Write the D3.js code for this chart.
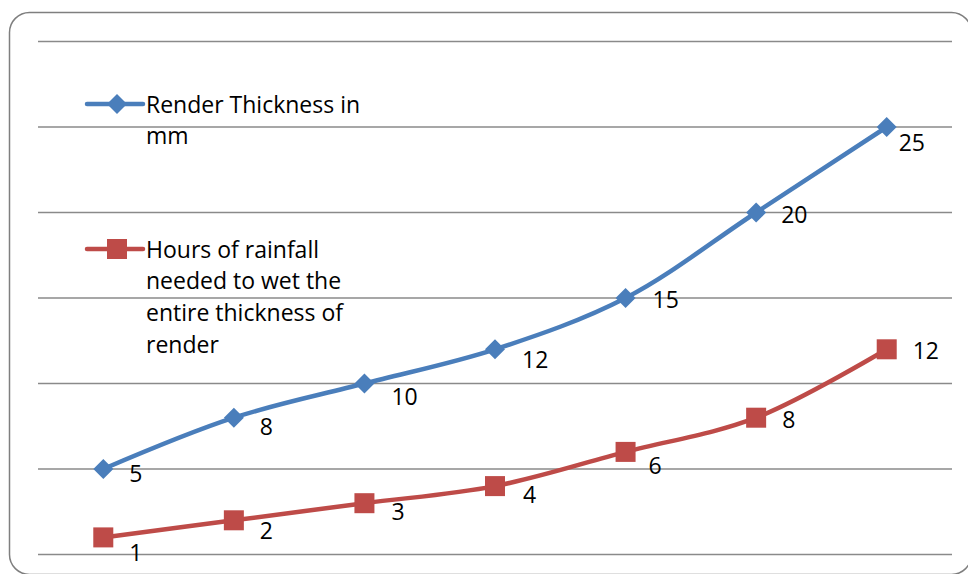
<!DOCTYPE html>
<html><head><meta charset="utf-8">
<script src="https://cdn.jsdelivr.net/npm/d3@7"></script>
<style>html,body{margin:0;padding:0;background:#fff;}svg{display:block;}</style>
</head><body>
<svg id="chart" width="968" height="574"></svg>
<script>
const categories = [1, 2, 3, 4, 5, 6, 7];
const renderThickness = [5, 8, 10, 12, 15, 20, 25];
const rainfallHours = [1, 2, 3, 4, 6, 8, 12];
const yTicks = [0, 5, 10, 15, 20, 25, 30];
const seriesNames = ["Render Thickness in mm", "Hours of rainfall needed to wet the entire thickness of render"];
const legendLines = [["Render Thickness in", "mm"], ["Hours of rainfall", "needed to wet the", "entire thickness of", "render"]];
// label offsets (dx, dy) relative to each point, as placed in the reference
const blueLabelOff = [[26,5],[26,9],[27,13],[27,10],[27,2],[25,2],[12,16]];
const redLabelOff = [[26,15],[26,10],[27,9],[28,9],[23,14],[26,2],[26,1]];

const svg = d3.select("#chart");
const FONT = "'Open Sans', sans-serif";
const FS = 23;

// frame
svg.append("rect").attr("x", 9.5).attr("y", 12.5).attr("width", 962).attr("height", 562)
  .attr("rx", 20).attr("fill", "#fff").attr("stroke", "#7f7f7f").attr("stroke-width", 1.5);

const x = d3.scaleBand().domain(categories).range([38, 952]);
const y = d3.scaleLinear().domain([0, 30]).range([554.5, 41.5]);
const cx = d => x(d) + x.bandwidth() / 2;

// gridlines
svg.append("g").selectAll("line").data(yTicks).join("line")
  .attr("x1", 38).attr("x2", 952)
  .attr("y1", d => y(d)).attr("y2", d => y(d))
  .attr("stroke", "#8a8a8a").attr("stroke-width", 1.6);

const line = d3.line().curve(d3.curveCatmullRom.alpha(0.5));
const blue = "#4a7ebb", red = "#be4b48";

function drawSeries(vals, color, marker, offs) {
  const pts = categories.map((c, i) => [cx(c), y(vals[i])]);
  svg.append("path").attr("d", line(pts)).attr("fill", "none")
    .attr("stroke", color).attr("stroke-width", 4.5).attr("stroke-linecap", "round");
  const g = svg.append("g");
  pts.forEach((p, i) => {
    if (marker === "diamond") {
      g.append("path").attr("d", `M${p[0]},${p[1]-10}L${p[0]+10},${p[1]}L${p[0]},${p[1]+10}L${p[0]-10},${p[1]}Z`).attr("fill", color);
    } else {
      g.append("rect").attr("x", p[0]-10).attr("y", p[1]-10).attr("width", 20).attr("height", 20).attr("fill", color);
    }
    g.append("text").attr("x", p[0] + offs[i][0]).attr("y", p[1] + offs[i][1])
      .attr("dy", "0.36em").attr("font-family", FONT).attr("font-size", FS).attr("fill", "#000")
      .text(vals[i]);
  });
}
drawSeries(renderThickness, blue, "diamond", blueLabelOff);
drawSeries(rainfallHours, red, "square", redLabelOff);

// legend
const legY = [104, 249];
const legColors = [blue, red];
legendLines.forEach((lines, k) => {
  const g = svg.append("g");
  g.append("line").attr("x1", 87).attr("x2", 143).attr("y1", legY[k]).attr("y2", legY[k])
    .attr("stroke", legColors[k]).attr("stroke-width", 4.5).attr("stroke-linecap", "round");
  if (k === 0) {
    g.append("path").attr("d", `M117,${legY[k]-10}L127,${legY[k]}L117,${legY[k]+10}L107,${legY[k]}Z`).attr("fill", blue);
  } else {
    g.append("rect").attr("x", 107).attr("y", legY[k]-10).attr("width", 20).attr("height", 20).attr("fill", red);
  }
  lines.forEach((t, j) => {
    g.append("text").attr("x", 146).attr("y", legY[k] + j * 31.8).attr("dy", "0.37em")
      .attr("font-family", FONT).attr("font-size", FS).attr("fill", "#000").text(t);
  });
});
</script>
</body></html>
